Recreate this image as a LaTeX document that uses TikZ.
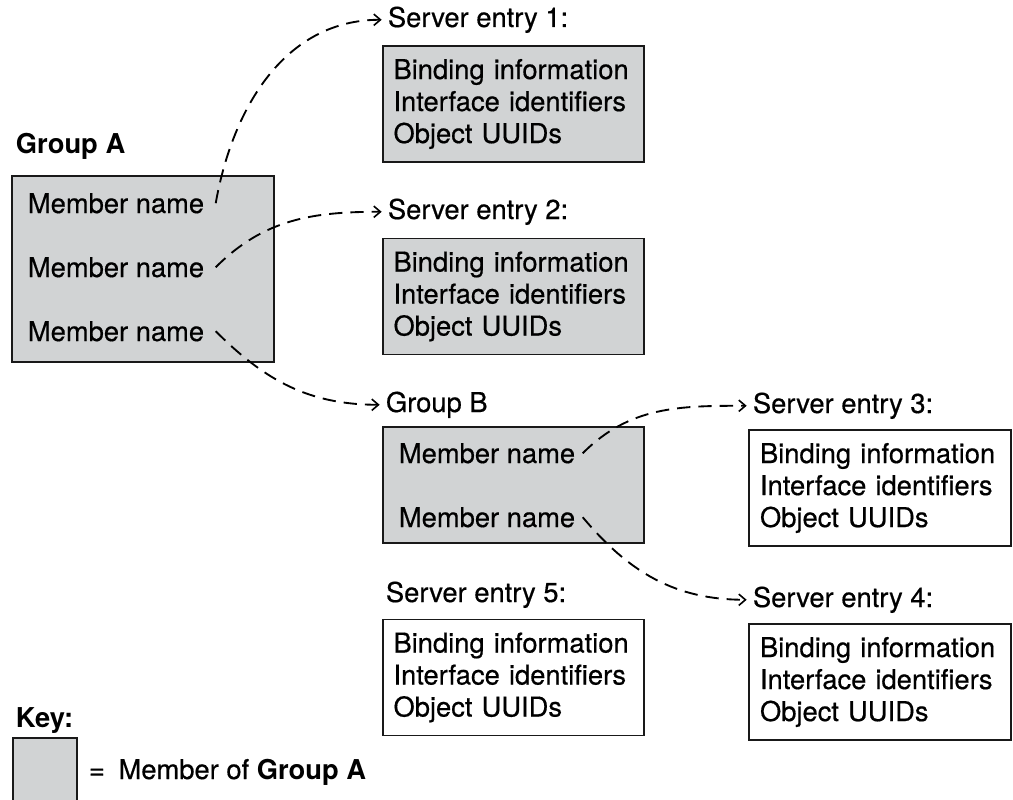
\documentclass[tikz,border=0pt]{standalone}
\usepackage{fontspec}
\setmainfont{TeX Gyre Heros}[UprightFeatures={FakeBold=0.5}]
\usepackage{tikz}
\usetikzlibrary{arrows,arrows.meta,positioning}
\definecolor{membergray}{RGB}{209,211,212}

\begin{document}
\begin{tikzpicture}[x=0.75pt, y=-0.75pt, font=\fontsize{20.5}{24}\selectfont, line width=1.4pt]
   \useasboundingbox (0,0) rectangle (1013,799);
   \begin{scope}[every node/.style={draw=black!90, line width=1.4pt, minimum width=196pt, minimum height=87pt, text width=180pt, inner xsep=8pt, align=left}]
    \node (e1) [fill=membergray] at (513.5,104) {Binding information\\Interface identifiers\\Object UUIDs};
    \node (e2) [fill=membergray] at (513.5,296.5) {Binding information\\Interface identifiers\\Object UUIDs};
    \node (gA) [fill=membergray, minimum height=139.5pt] at (143,269) {};
    \node (gB) [fill=membergray] at (513.5,485) {};
    \node (e5) at (513.5,677.5) {Binding information\\Interface identifiers\\Object UUIDs};
    \node (e3) at (880,488) {Binding information\\Interface identifiers\\Object UUIDs};
    \node (e4) at (880,682) {Binding information\\Interface identifiers\\Object UUIDs};
   \end{scope}
   \node (key) [draw=black!90, line width=1.4pt, fill=membergray, minimum width=48pt, minimum height=54pt, inner sep=0pt] at (44.7,774) {};
   \begin{scope}[every node/.style={inner sep=0pt, anchor=base west}]
    \node (gAl) at (15,153) {\textbf{Group A}};
    \node (ma1) at (27,213) {Member name};
    \node (ma2) at (27,277) {Member name};
    \node (ma3) at (27,341) {Member name};
    \node (s1) at (387,27) {Server entry 1:};
    \node (s2) at (387,219) {Server entry 2:};
    \node (gBl) at (385,412) {Group B};
    \node (mb1) at (398,463) {Member name};
    \node (mb2) at (398,527) {Member name};
    \node (s3) at (752,413) {Server entry 3:};
    \node (s4) at (752,607) {Server entry 4:};
    \node (s5) at (385,602) {Server entry 5:};
    \node (keyl) at (15,727) {\textbf{Key:}};
    \node (keyt) at (88,779) {=\hspace{0.5em}Member of \textbf{Group A}};
   \end{scope}
   \begin{scope}[-{Straight Barb[length=5pt,width=8.5pt,line width=1.2pt]}, dash pattern=on 10pt off 6pt]
    \draw ([xshift=8pt]ma1.east) to[out=80, in=180] ([xshift=-4pt]s1.west);
    \draw ([xshift=8pt]ma2.east) to[out=45, in=180] ([xshift=-4pt]s2.west);
    \draw ([xshift=8pt]ma3.east) to[out=-45, in=180] ([xshift=-4pt]gBl.west);
    \draw ([xshift=5pt]mb1.east) to[out=45, in=180] ([xshift=-4pt]s3.west);
    \draw ([xshift=5pt]mb2.east) to[out=-50, in=180] ([xshift=-4pt]s4.west);
   \end{scope}
\end{tikzpicture}
\end{document}
